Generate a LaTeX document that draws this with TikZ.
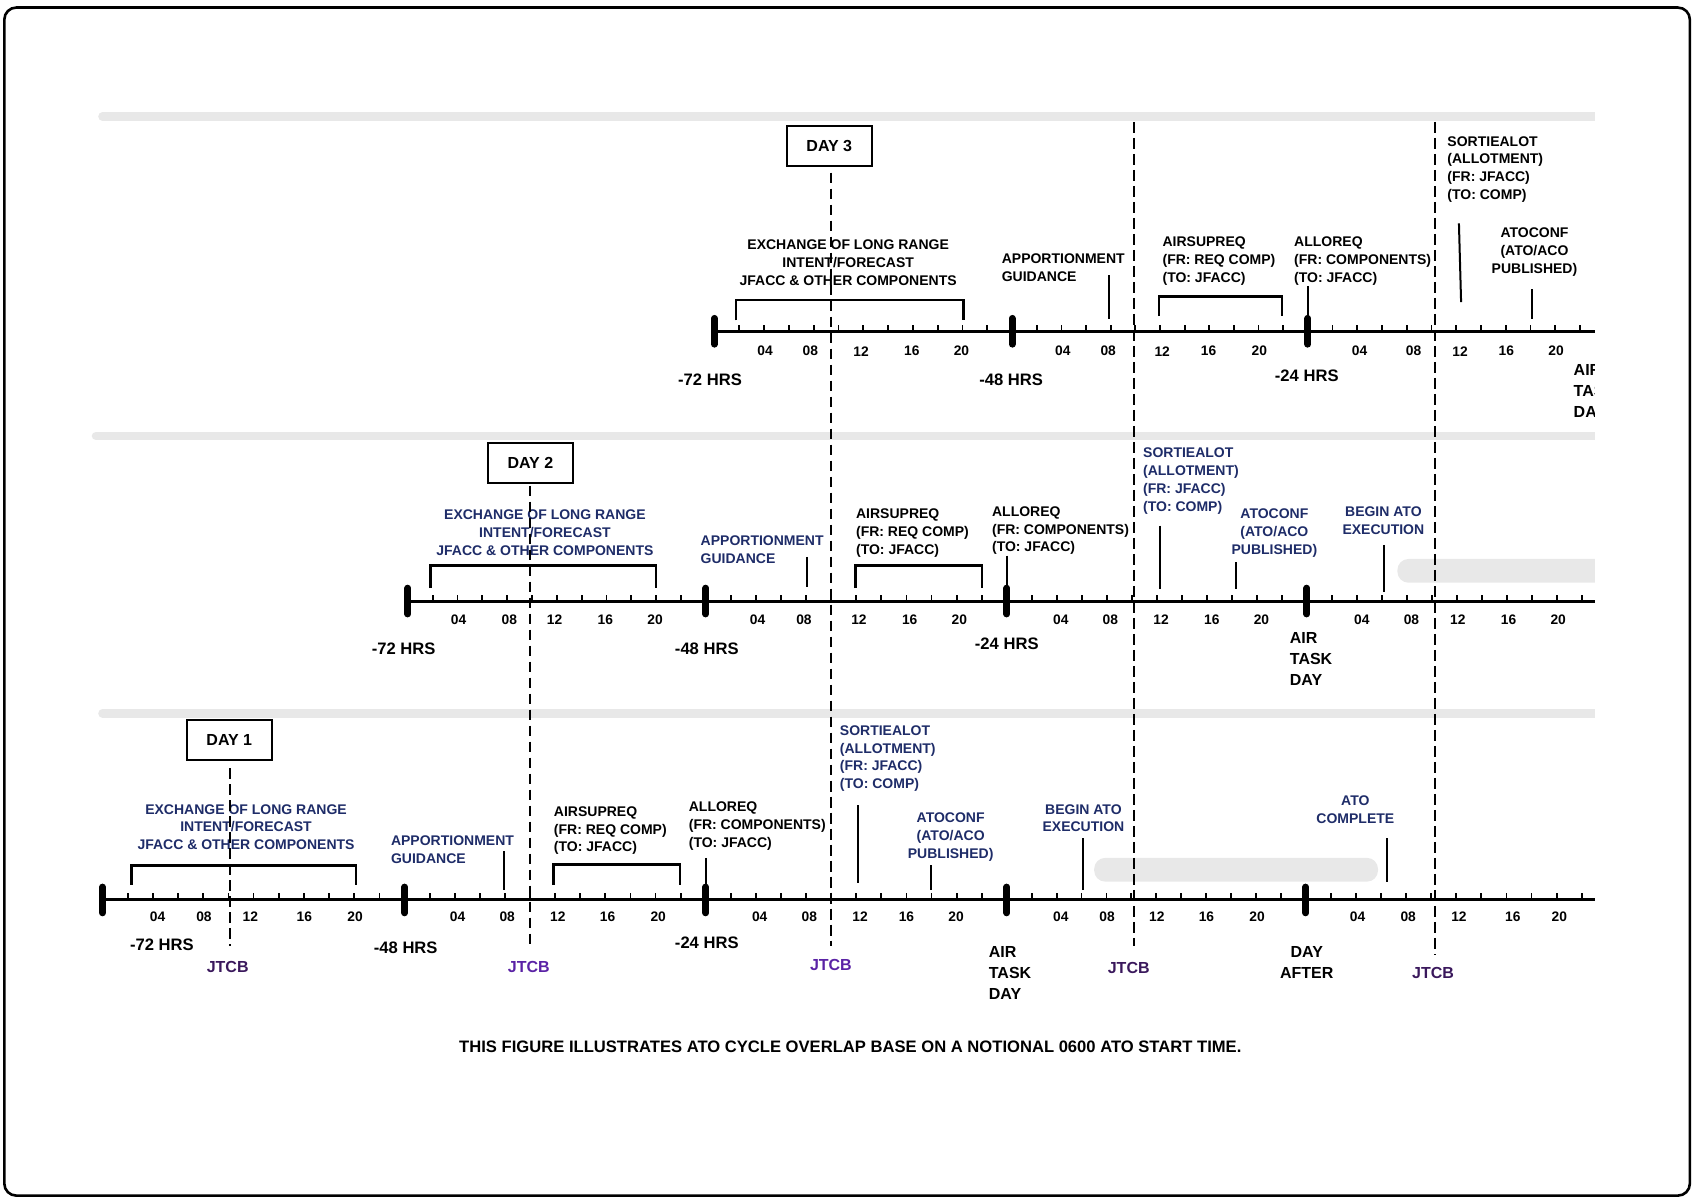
\documentclass[tikz,border=0pt]{standalone}
\usepackage{fontspec}
\setmainfont{Liberation Sans}
\definecolor{lblnavy}{RGB}{30,44,104}
\definecolor{jdark}{RGB}{58,24,92}
\definecolor{jviol}{RGB}{90,34,165}
\definecolor{barg}{RGB}{232,232,232}
\begin{document}
\begin{tikzpicture}[x=0.5395pt,y=-0.5395pt,
  lbl/.style={font=\bfseries\fontsize{7}{8.9}\selectfont, inner sep=0pt, text=black},
  nv/.style={text=lblnavy},
  hrs/.style={font=\bfseries\fontsize{8.3}{10}\selectfont, inner sep=0pt},
  big/.style={font=\bfseries\fontsize{8}{10.5}\selectfont, inner sep=0pt},
  tk/.style={font=\bfseries\fontsize{6.9}{7}\selectfont, inner sep=0pt},
  jt/.style={font=\bfseries\fontsize{8}{10}\selectfont, inner sep=0pt},
  capt/.style={font=\bfseries\fontsize{8.3}{10}\selectfont, inner sep=0pt},
  axisline/.style={line width=1.5pt},
  marker/.style={line width=3.4pt, line cap=round},
  tick/.style={line width=0.9pt},
  brk/.style={line width=1.3pt},
  leader/.style={line width=1pt},
  jline/.style={line width=1pt, dash pattern=on 5.4pt off 2.6pt},
  gbar/.style={line width=4.3pt, barg, line cap=round},
  gpill/.style={fill=barg, rounded corners=5.5pt},
  daybox/.style={draw, line width=0.9pt, minimum width=42.6pt, minimum height=20pt, inner sep=0pt, font=\bfseries\fontsize{8}{10}\selectfont}
]
\useasboundingbox (0,0) rectangle (1568,1110);
% frame
\draw[line width=1.3pt, rounded corners=6pt] (4,7) rectangle (1566,1108);

% gray separator bars (square at the right end)
\begin{scope}
\clip (0,0) rectangle (1478,1110);
\draw[gbar] (95,108) coordinate (g3a) -- (1490,108) coordinate (g3b);
\draw[gbar] (89,404) coordinate (g2a) -- (1490,404) coordinate (g2b);
\draw[gbar] (95,661) coordinate (g1a) -- (1490,661) coordinate (g1b);
\end{scope}

% execution pills
\begin{scope}
\clip (1280,510) rectangle (1478,550);
\fill[gpill] (1295,518) rectangle (1500,540);
\end{scope}
\fill[gpill] (1014,795) rectangle (1277,817);

% axes
\draw[axisline] (662,307) coordinate (ax3a) -- (1478,307) coordinate (ax3b);
\draw[axisline] (378,557) coordinate (ax2a) -- (1478,557) coordinate (ax2b);
\draw[axisline] (95,834) coordinate (ax1a) -- (1478,834) coordinate (ax1b);

% ticks
\foreach \a/\b in {662/938,938/1212,1212/1487}{
  \foreach \k in {1,...,11}{
    \pgfmathsetmacro\tx{\a+(\b-\a)*\k/12}
    \draw[tick] (\tx,307) -- (\tx,301);
  }}
\foreach \a/\b in {378/654,654/933,933/1211,1211/1489}{
  \foreach \k in {1,...,11}{
    \pgfmathsetmacro\tx{\a+(\b-\a)*\k/12}
    \draw[tick] (\tx,557) -- (\tx,551);
  }}
\foreach \a/\b in {95/375,375/654,654/933,933/1210,1210/1489}{
  \foreach \k in {1,...,11}{
    \pgfmathsetmacro\tx{\a+(\b-\a)*\k/12}
    \draw[tick] (\tx,834) -- (\tx,828);
  }}

% day markers
\foreach \x in {662,938,1212}{\draw[marker] (\x,295) coordinate (m3-\x) -- (\x,319);}
\foreach \x in {378,654,933,1211}{\draw[marker] (\x,545) coordinate (m2-\x) -- (\x,569);}
\foreach \x in {95,375,654,933,1210}{\draw[marker] (\x,822) coordinate (m1-\x) -- (\x,846);}

% tick labels
\foreach \x/\t in {709/04,751/08,798/12,845/16,891/20,985/04,1027/08,1077/12,1120/16,1167/20,1260/04,1310/08,1353/12,1396/16,1442/20}
  {\node[tk] (t3-\x) at (\x,325.5) {\t};}
\foreach \x/\t in {425/04,472/08,514/12,561/16,607/20,702/04,745/08,796/12,843/16,889/20,983/04,1029/08,1076/12,1123/16,1169/20,1262/04,1308/08,1351/12,1398/16,1444/20}
  {\node[tk] (t2-\x) at (\x,574) {\t};}
\foreach \x/\t in {146/04,189/08,232/12,282/16,329/20,424/04,470/08,517/12,563/16,610/20,704/04,750/08,797/12,840/16,886/20,983/04,1026/08,1072/12,1118/16,1165/20,1258/04,1305/08,1352/12,1402/16,1445/20}
  {\node[tk] (t1-\x) at (\x,849.5) {\t};}

% ---------- ROW 3 ----------
\node[daybox] (day3) at (768.5,135) {DAY 3};
\node[lbl, align=center, anchor=north] (ex3) at (786,222) {EXCHANGE OF LONG RANGE\\INTENT/FORECAST\\JFACC \& OTHER COMPONENTS};
\node[lbl, align=left, anchor=north west] (ap3) at (928,235) {APPORTIONMENT\\GUIDANCE};
\node[lbl, align=left, anchor=north west] (as3) at (1077,219) {AIRSUPREQ\\(FR: REQ COMP)\\(TO: JFACC)};
\node[lbl, align=left, anchor=north west] (al3) at (1199,219) {ALLOREQ\\(FR: COMPONENTS)\\(TO: JFACC)};
\node[lbl, align=left, anchor=north west] (so3) at (1341,126) {SORTIEALOT\\(ALLOTMENT)\\(FR: JFACC)\\(TO: COMP)};
\node[lbl, align=center, anchor=north] (at3) at (1422,211) {ATOCONF\\(ATO/ACO\\PUBLISHED)};
\node[hrs] (h3a) at (658,352) {-72 HRS};
\node[hrs] (h3b) at (937,352) {-48 HRS};
\node[hrs] (h3c) at (1211,348) {-24 HRS};
\begin{scope}
\clip (1440,330) rectangle (1478,400);
\node[big, align=left, anchor=north west] (atd3) at (1458,337) {AIR\\TASK\\DAY};
\end{scope}
\draw[brk] (682,297) coordinate (b3a) -- (682,278) -- (893,278) -- (893,297) coordinate (b3b);
\draw[brk] (1074,293) coordinate (b3c) -- (1074,275) -- (1188,275) -- (1188,293) coordinate (b3d);
\draw[leader] (1028,255) coordinate (l3a) -- (1028,296) coordinate (l3b);
\draw[leader] (1212,265) coordinate (l3c) -- (1212,295) coordinate (l3d);
\draw[leader] (1352,207) coordinate (l3e) -- (1354,280) coordinate (l3f);
\draw[leader] (1420,268) coordinate (l3g) -- (1420,296) coordinate (l3h);

% ---------- ROW 2 ----------
\node[daybox] (day2) at (491.5,429) {DAY 2};
\node[lbl, nv, align=center, anchor=north] (ex2) at (505,472) {EXCHANGE OF LONG RANGE\\INTENT/FORECAST\\JFACC \& OTHER COMPONENTS};
\node[lbl, nv, align=left, anchor=north west] (ap2) at (649,496) {APPORTIONMENT\\GUIDANCE};
\node[lbl, align=left, anchor=north west] (as2) at (793,471) {AIRSUPREQ\\(FR: REQ COMP)\\(TO: JFACC)};
\node[lbl, align=left, anchor=north west] (al2) at (919,469) {ALLOREQ\\(FR: COMPONENTS)\\(TO: JFACC)};
\node[lbl, nv, align=left, anchor=north west] (so2) at (1059,415) {SORTIEALOT\\(ALLOTMENT)\\(FR: JFACC)\\(TO: COMP)};
\node[lbl, nv, align=center, anchor=north] (at2) at (1181,471) {ATOCONF\\(ATO/ACO\\PUBLISHED)};
\node[lbl, nv, align=center, anchor=north] (be2) at (1282,469) {BEGIN ATO\\EXECUTION};
\node[hrs] (h2a) at (374,601) {-72 HRS};
\node[hrs] (h2b) at (655,601) {-48 HRS};
\node[hrs] (h2c) at (933,597) {-24 HRS};
\node[big, align=left, anchor=north west] (atd2) at (1195,586) {AIR\\TASK\\DAY};
\draw[brk] (399,545) coordinate (b2a) -- (399,524) -- (608,524) -- (608,545) coordinate (b2b);
\draw[brk] (793,545) coordinate (b2c) -- (793,524) -- (910,524) -- (910,545) coordinate (b2d);
\draw[leader] (748,516) coordinate (l2a) -- (748,544) coordinate (l2b);
\draw[leader] (933,515) coordinate (l2c) -- (933,545) coordinate (l2d);
\draw[leader] (1075,487) coordinate (l2e) -- (1075,546) coordinate (l2f);
\draw[leader] (1145,521) coordinate (l2g) -- (1145,546) coordinate (l2h);
\draw[leader] (1283,505) coordinate (l2i) -- (1283,549) coordinate (l2j);

% ---------- ROW 1 ----------
\node[daybox] (day1) at (212.5,686) {DAY 1};
\node[lbl, nv, align=center, anchor=north] (ex1) at (228,745) {EXCHANGE OF LONG RANGE\\INTENT/FORECAST\\JFACC \& OTHER COMPONENTS};
\node[lbl, nv, align=left, anchor=north west] (ap1) at (362,774) {APPORTIONMENT\\GUIDANCE};
\node[lbl, align=left, anchor=north west] (as1) at (513,747) {AIRSUPREQ\\(FR: REQ COMP)\\(TO: JFACC)};
\node[lbl, align=left, anchor=north west] (al1) at (638,743) {ALLOREQ\\(FR: COMPONENTS)\\(TO: JFACC)};
\node[lbl, nv, align=left, anchor=north west] (so1) at (778,672) {SORTIEALOT\\(ALLOTMENT)\\(FR: JFACC)\\(TO: COMP)};
\node[lbl, nv, align=center, anchor=north] (at1) at (881,753) {ATOCONF\\(ATO/ACO\\PUBLISHED)};
\node[lbl, nv, align=center, anchor=north] (be1) at (1004,745) {BEGIN ATO\\EXECUTION};
\node[lbl, nv, align=center, anchor=north] (ac1) at (1256,737) {ATO\\COMPLETE};
\node[hrs] (h1a) at (150,876) {-72 HRS};
\node[hrs] (h1b) at (376,878) {-48 HRS};
\node[hrs] (h1c) at (655,874) {-24 HRS};
\node[big, align=left, anchor=north west] (atd1) at (916,877) {AIR\\TASK\\DAY};
\node[big, align=center, anchor=north] (da1) at (1211,877) {DAY\\AFTER};
\draw[brk] (122,820) coordinate (b1a) -- (122,802) -- (330,802) -- (330,820) coordinate (b1b);
\draw[brk] (513,820) coordinate (b1c) -- (513,801) -- (630,801) -- (630,820) coordinate (b1d);
\draw[leader] (467,789) coordinate (l1a) -- (467,825) coordinate (l1b);
\draw[leader] (654,795) coordinate (l1c) -- (654,822) coordinate (l1d);
\draw[leader] (795,746) coordinate (l1e) -- (795,818) coordinate (l1f);
\draw[leader] (863,802) coordinate (l1g) -- (863,825) coordinate (l1h);
\draw[leader] (1004,777) coordinate (l1i) -- (1004,825) coordinate (l1j);
\draw[leader] (1285,777) coordinate (l1k) -- (1285,817) coordinate (l1l);

% JTCB labels
\node[jt, text=jdark] (j1) at (211,896) {JTCB};
\node[jt, text=jviol] (j2) at (490,896) {JTCB};
\node[jt, text=jviol] (j3) at (770,894) {JTCB};
\node[jt, text=jdark] (j4) at (1046,897) {JTCB};
\node[jt, text=jdark] (j5) at (1328,902) {JTCB};

% JTCB dashed lines
\coordinate (d1t) at (213,712); \coordinate (d1b) at (213,877);
\coordinate (d2t) at (491,450); \coordinate (d2b) at (491,877);
\coordinate (d3t) at (770,160); \coordinate (d3b) at (770,877);
\coordinate (d4t) at (1051,113); \coordinate (d4b) at (1051,877);
\coordinate (d5t) at (1330,113); \coordinate (d5b) at (1330,885);
\foreach \i in {1,...,5}{\draw[jline] (d\i t) -- (d\i b);}

% caption
\node[capt] (caption) at (788,970) {THIS FIGURE ILLUSTRATES ATO CYCLE OVERLAP BASE ON A NOTIONAL 0600 ATO START TIME.};
\end{tikzpicture}
\end{document}
